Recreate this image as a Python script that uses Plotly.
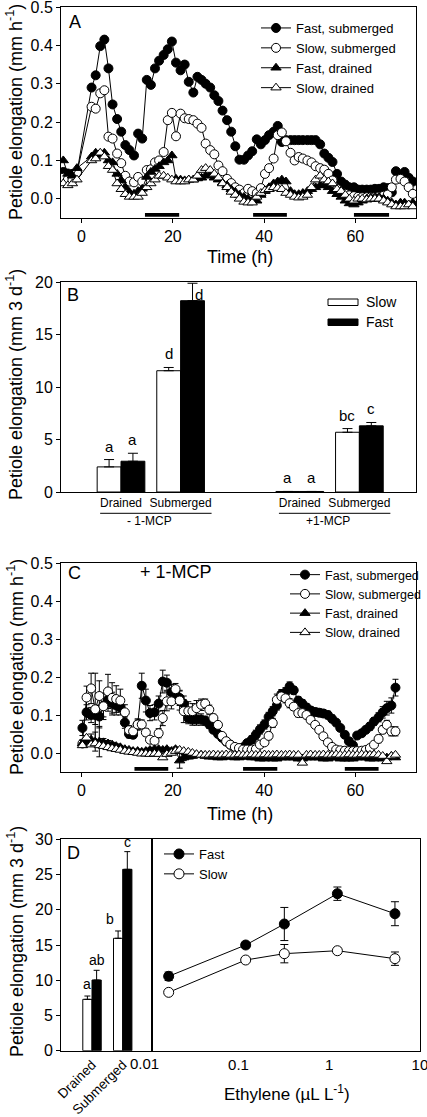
import plotly.graph_objects as go

FONT = "Liberation Sans, Arial, sans-serif"
W, H = 427, 1117
BLK = "black"

# ---------------- Panel A : time course, no 1-MCP ----------------
tA = [-4.0, -3.0, -2.0, -1.0,
      2.2, 3.1, 4.1, 5.0, 5.9, 6.8, 7.8, 8.7, 9.6, 10.5,
      11.5, 12.4, 13.3, 14.3, 15.2, 16.1, 17.0, 18.0, 18.9, 19.8,
      20.7, 21.7, 22.6, 23.5, 24.5, 25.4, 26.3, 27.2, 28.2, 29.1,
      30.0, 30.9, 31.9, 32.8, 33.7, 34.6, 35.6, 36.5, 37.4, 38.4,
      39.3, 40.2, 41.1, 42.1, 43.0, 43.9, 44.8, 45.8, 46.7, 47.6,
      48.5, 49.5, 50.4, 51.3, 52.3, 53.2, 54.1, 55.0, 56.0, 56.9,
      57.8, 58.7, 59.7, 60.6, 61.5, 62.5, 63.4, 64.3, 65.2, 66.2,
      67.1, 68.0, 68.9, 69.9, 70.8, 71.7, 72.6]
A_fast_sub = [0.070, 0.066, 0.065, 0.068,
              0.290, 0.322, 0.398, 0.415, 0.340, 0.246, 0.208, 0.175, 0.140, 0.127,
              0.113, 0.170, 0.157, 0.310, 0.297, 0.340, 0.360, 0.375, 0.390, 0.410,
              0.355, 0.335, 0.350, 0.305, 0.277, 0.318, 0.310, 0.300, 0.290, 0.270,
              0.255, 0.230, 0.205, 0.175, 0.137, 0.102, 0.102, 0.113, 0.124, 0.155,
              0.142, 0.153, 0.166, 0.175, 0.190, 0.148, 0.153, 0.153, 0.153, 0.153,
              0.153, 0.153, 0.153, 0.153, 0.142, 0.118, 0.107, 0.096, 0.065, 0.045,
              0.037, 0.030, 0.030, 0.024, 0.024, 0.024, 0.024, 0.026, 0.026, 0.030,
              0.028, 0.017, 0.072, 0.057, 0.070, 0.055, 0.045]
A_slow_sub = [0.055, 0.050, 0.048, 0.068,
              0.240, 0.235, 0.275, 0.283, 0.162, 0.157, 0.118, 0.093, 0.060, 0.045,
              0.043, 0.057, 0.045, 0.075, 0.077, 0.095, 0.100, 0.122, 0.205, 0.224,
              0.163, 0.222, 0.210, 0.208, 0.205, 0.196, 0.185, 0.144, 0.127, 0.116,
              0.087, 0.072, 0.052, 0.041, 0.030, 0.024, 0.015, 0.026, 0.020, 0.015,
              0.028, 0.065, 0.080, 0.105, 0.166, 0.173, 0.150, 0.120, 0.100, 0.109,
              0.105, 0.100, 0.095, 0.085, 0.080, 0.076, 0.065, 0.048, 0.026, 0.017,
              0.013, 0.009, 0.007, 0.005, 0.004, 0.004, 0.004, 0.005, 0.006, 0.008,
              0.011, 0.030, 0.050, 0.052, 0.045, 0.030, 0.013]
A_fast_dr = [0.100, 0.065, 0.060, 0.080,
             0.110, 0.120, 0.113, 0.120, 0.100, 0.095, 0.065, 0.048, 0.030, 0.017,
             0.013, 0.020, 0.026, 0.057, 0.070, 0.078, 0.085, 0.095, 0.100, 0.113,
             0.052, 0.050, 0.048, 0.050, 0.050, 0.053, 0.055, 0.060, 0.062, 0.055,
             0.050, 0.042, 0.035, 0.025, 0.018, 0.010, 0.005, 0.000, -0.005, -0.005,
             0.010, 0.020, 0.030, 0.040, 0.045, 0.050, 0.045, 0.020, 0.012, 0.012,
             0.015, 0.020, 0.025, 0.030, 0.035, 0.035, 0.030, 0.020, 0.012, 0.005,
             -0.005, -0.012, -0.015, -0.010, -0.005, 0.000, 0.003, 0.005, 0.005, 0.000,
             -0.005, -0.010, -0.015, -0.010, -0.010, -0.015, -0.010]
A_slow_dr = [0.040, 0.035, 0.040, 0.050,
             0.100, 0.105, 0.120, 0.110, 0.085, 0.075, 0.040, 0.025, 0.012, 0.005,
             0.005, 0.005, 0.015, 0.030, 0.040, 0.050, 0.060, 0.060, 0.055, 0.050,
             0.045, 0.045, 0.045, 0.050, 0.050, 0.060, 0.075, 0.080, 0.075, 0.065,
             0.055, 0.040, 0.030, 0.018, 0.010, 0.000, -0.008, -0.010, -0.010, 0.005,
             0.015, 0.022, 0.025, 0.030, 0.028, 0.025, 0.015, 0.010, 0.005, 0.003,
             0.005, 0.010, 0.030, 0.050, 0.060, 0.050, 0.045, 0.040, 0.025, 0.020,
             0.010, 0.000, -0.005, 0.000, 0.000, -0.002, 0.000, 0.000, 0.000, -0.005,
             -0.010, -0.015, -0.020, -0.020, -0.020, -0.015, -0.020]
A_night_start = [13.9, 37.6, 59.7]
A_night_end = [21.4, 45.0, 67.4]

# ---------------- Panel B : 3-day elongation bars ----------------
B_groups = [1, 2, 4, 5]
B_labels = ["Drained", "Submerged", "Drained", "Submerged"]
B_slow = [2.39, 11.55, 0.05, 5.69]
B_slow_err = [0.70, 0.31, None, 0.35]
B_fast = [2.93, 18.22, 0.05, 6.30]
B_fast_err = [0.76, 1.66, None, 0.32]
B_slow_letters = ["a", "d", "a", "bc"]
B_fast_letters = ["a", "d", "a", "c"]
B_treat = ["- 1-MCP", "+1-MCP"]
B_treat_first_group = [1, 4]

# ---------------- Panel C : time course, + 1-MCP ----------------
tC = [0.2, 1.1, 2.1, 3.0, 3.9, 4.8, 5.8, 6.7, 7.6, 8.5,
      9.5, 10.4, 11.3, 12.3, 13.2, 14.1, 15.0, 16.0, 16.9, 17.8,
      18.7, 19.7, 20.6, 21.5, 22.4, 23.4, 24.3, 25.2, 26.2, 27.1,
      28.0, 28.9, 29.9, 30.8, 31.7, 32.6, 33.6, 34.5, 35.4, 36.3,
      37.3, 38.2, 39.1, 40.1, 41.0, 41.9, 42.8, 43.8, 44.7, 45.6,
      46.5, 47.5, 48.4, 49.3, 50.2, 51.2, 52.1, 53.0, 54.0, 54.9,
      55.8, 56.7, 57.7, 58.6, 59.5, 60.4, 61.4, 62.3, 63.2, 64.1,
      65.1, 66.0, 66.9, 67.9, 68.8]
C_fast_sub = [0.066, 0.107, 0.100, 0.100, 0.096, 0.125, 0.140, 0.130, 0.125, 0.120,
              0.080, 0.050, 0.048, 0.075, 0.177, 0.138, 0.105, 0.107, 0.130, 0.188,
              0.185, 0.160, 0.150, 0.145, 0.130, 0.092, 0.088, 0.088, 0.088, 0.085,
              0.075, 0.061, 0.050, 0.040, 0.030, 0.022, 0.015, 0.012, 0.015, 0.026,
              0.035, 0.048, 0.062, 0.075, 0.095, 0.110, 0.125, 0.155, 0.160, 0.175,
              0.165, 0.138, 0.130, 0.120, 0.112, 0.108, 0.106, 0.104, 0.100, 0.090,
              0.080, 0.066, 0.048, 0.031, 0.020, 0.046, 0.052, 0.061, 0.070, 0.083,
              0.094, 0.107, 0.118, 0.125, 0.172]
C_fast_sub_err = [0.020, 0.020, 0.020, 0.025, 0.030, 0.030, 0.030, 0.030, 0.025, 0.020,
                  0.015, 0.010, 0.010, 0.015, 0.033, 0.030, 0.020, 0.020, 0.020, 0.030,
                  0.020, 0.020, 0.020, 0.020, 0.020, 0.015, 0.015, 0.015, 0.015, 0.012,
                  0.010, 0.008, 0.008, 0.008, 0.008, 0.008, 0.008, 0.008, 0.008, 0.008,
                  0.010, 0.012, 0.012, 0.012, 0.012, 0.012, 0.012, 0.012, 0.012, 0.012,
                  0.010, 0.010, 0.010, 0.010, 0.010, 0.010, 0.010, 0.010, 0.010, 0.010,
                  0.008, 0.008, 0.008, 0.008, 0.008, 0.008, 0.008, 0.008, 0.010, 0.010,
                  0.012, 0.015, 0.018, 0.020, 0.022]
C_slow_sub = [0.025, 0.146, 0.170, 0.115, 0.150, 0.123, 0.162, 0.145, 0.142, 0.138,
              0.107, 0.060, 0.057, 0.075, 0.075, 0.054, 0.035, 0.032, 0.052, 0.092,
              0.136, 0.136, 0.168, 0.138, 0.110, 0.110, 0.110, 0.118, 0.127, 0.130,
              0.114, 0.092, 0.074, 0.045, 0.031, 0.022, 0.016, 0.013, 0.009, 0.009,
              0.009, 0.010, 0.022, 0.028, 0.045, 0.079, 0.140, 0.149, 0.144, 0.131,
              0.122, 0.105, 0.105, 0.100, 0.087, 0.074, 0.061, 0.044, 0.028, 0.016,
              0.009, 0.007, 0.006, 0.005, 0.005, 0.005, 0.006, 0.008, 0.013, 0.022,
              0.037, 0.061, 0.074, 0.057, 0.057]
C_slow_sub_err = [0.010, 0.030, 0.040, 0.095, 0.040, 0.035, 0.045, 0.040, 0.035, 0.030,
                  0.020, 0.012, 0.010, 0.012, 0.012, 0.010, 0.008, 0.008, 0.012, 0.020,
                  0.025, 0.020, 0.015, 0.025, 0.030, 0.025, 0.020, 0.020, 0.015, 0.012,
                  0.012, 0.010, 0.008, 0.008, 0.008, 0.008, 0.008, 0.008, 0.008, 0.008,
                  0.008, 0.008, 0.008, 0.008, 0.010, 0.012, 0.015, 0.012, 0.012, 0.012,
                  0.010, 0.010, 0.010, 0.010, 0.008, 0.008, 0.008, 0.008, 0.008, 0.008,
                  0.008, 0.008, 0.008, 0.008, 0.008, 0.008, 0.008, 0.008, 0.008, 0.008,
                  0.010, 0.010, 0.012, 0.012, 0.012]
C_fast_dr = [0.025, 0.030, 0.035, 0.030, 0.030, 0.028, 0.025, 0.022, 0.018, 0.015,
             0.010, 0.008, 0.005, 0.005, 0.003, 0.005, 0.008, 0.010, 0.010, 0.008,
             0.010, 0.005, 0.010, -0.020, -0.012, -0.010, -0.008, -0.005, -0.005, -0.008,
             -0.010, -0.010, -0.012, -0.012, -0.010, -0.010, -0.012, -0.012, -0.010, -0.010,
             -0.012, -0.012, -0.015, -0.015, -0.012, -0.015, -0.015, -0.012, -0.012, -0.012,
             -0.012, -0.015, -0.015, -0.012, -0.012, -0.012, -0.012, -0.015, -0.015, -0.012,
             -0.012, -0.015, -0.015, -0.015, -0.015, -0.012, -0.012, -0.012, -0.015, -0.015,
             -0.012, -0.015, -0.012, -0.008, -0.012]
C_fast_dr_err = [0.008, 0.010, 0.015, 0.025, 0.040, 0.010, 0.008, 0.006, 0.006, 0.005,
                 0.005, 0.005, 0.005, 0.005, 0.005, 0.005, 0.005, 0.005, 0.005, 0.005,
                 0.005, 0.005, 0.006, 0.020, 0.008, 0.005, 0.005, 0.005, 0.005, 0.005,
                 0.004, 0.004, 0.004, 0.004, 0.004, 0.004, 0.004, 0.004, 0.004, 0.004,
                 0.004, 0.004, 0.004, 0.004, 0.004, 0.004, 0.004, 0.004, 0.004, 0.004,
                 0.004, 0.004, 0.004, 0.004, 0.004, 0.004, 0.004, 0.004, 0.004, 0.004,
                 0.004, 0.004, 0.004, 0.004, 0.004, 0.004, 0.004, 0.004, 0.004, 0.004,
                 0.004, 0.004, 0.004, 0.004, 0.004]
C_slow_dr = [0.020, 0.040, 0.022, 0.025, 0.020, 0.018, 0.015, 0.012, 0.010, 0.008,
             0.005, 0.003, 0.002, 0.000, -0.002, -0.002, -0.003, -0.002, -0.003, -0.012,
             -0.003, 0.000, 0.005, 0.008, 0.005, 0.003, 0.000, -0.003, -0.005, -0.005,
             -0.005, -0.004, -0.005, -0.005, -0.004, -0.005, -0.005, -0.004, -0.005, -0.005,
             -0.004, -0.005, -0.005, -0.004, -0.005, -0.005, -0.004, -0.005, -0.005, -0.004,
             -0.005, -0.005, -0.026, -0.005, -0.004, -0.005, -0.005, -0.004, -0.005, -0.005,
             -0.004, -0.005, -0.005, -0.004, -0.005, -0.005, -0.004, -0.005, -0.005, -0.004,
             -0.005, -0.008, -0.022, -0.008, -0.005]
C_night_start = [11.6, 35.4, 57.7]
C_night_end = [19.0, 42.9, 65.1]

# ---------------- Panel D : ethylene dose response ----------------
D_groups = [1, 2]
D_labels = ["Drained", "Submerged"]
D_bar_slow = [7.29, 15.95]
D_bar_slow_err = [0.47, 1.04]
D_bar_fast = [10.03, 25.74]
D_bar_fast_err = [1.38, 2.51]
D_slow_letters = ["a", "b"]
D_fast_letters = ["ab", "c"]
ethylene = [0.017, 0.12, 0.32, 1.23, 5.3]
D_fast = [10.56, 15.00, 17.98, 22.28, 19.44]
D_fast_err = [0.60, 0.40, 2.35, 0.95, 1.70]
D_slow = [8.28, 12.87, 13.77, 14.19, 13.06]
D_slow_err = [0.30, 0.30, 1.30, 0.40, 0.95]


def px_x(p):
    return p / W


def px_y(p):
    return 1 - p / H


fig = go.Figure()

series_style = [("circle", BLK), ("circle", "white"),
                ("triangle-up", BLK), ("triangle-up", "white")]
names = ["Fast, submerged", "Slow, submerged", "Fast, drained", "Slow, drained"]

# Panel A
for name, vals, (sym, fill) in zip(names, [A_fast_sub, A_slow_sub, A_fast_dr, A_slow_dr], series_style):
    fig.add_trace(go.Scatter(
        x=tA, y=vals, mode="lines+markers", name=name,
        line=dict(color=BLK, width=1),
        marker=dict(symbol=sym, size=9, color=fill, line=dict(color=BLK, width=1)),
        xaxis="x", yaxis="y", legend="legend"))

# Panel B
BW = 0.4
fig.add_trace(go.Bar(
    x=B_groups, y=B_slow, width=BW, offset=-BW, name="Slow",
    marker=dict(color="white", line=dict(color=BLK, width=1)),
    error_y=dict(type="data", symmetric=False, array=B_slow_err,
                 arrayminus=[0, 0, 0, 0], color=BLK, thickness=1, width=5),
    xaxis="x2", yaxis="y2", showlegend=False))
fig.add_trace(go.Bar(
    x=B_groups, y=B_fast, width=BW, offset=0, name="Fast",
    marker=dict(color=BLK, line=dict(color=BLK, width=1)),
    error_y=dict(type="data", symmetric=False, array=B_fast_err,
                 arrayminus=[0, 0, 0, 0], color=BLK, thickness=1, width=5),
    xaxis="x2", yaxis="y2", showlegend=False))

# Panel C
for name, vals, errs, (sym, fill) in zip(
        names, [C_fast_sub, C_slow_sub, C_fast_dr, C_slow_dr],
        [C_fast_sub_err, C_slow_sub_err, C_fast_dr_err, None], series_style):
    fig.add_trace(go.Scatter(
        x=tC, y=vals, mode="lines+markers", name=name,
        line=dict(color=BLK, width=1),
        marker=dict(symbol=sym, size=9, color=fill, line=dict(color=BLK, width=1)),
        error_y=(dict(type="data", array=errs, color=BLK, thickness=1, width=3)
                 if errs is not None else None),
        xaxis="x3", yaxis="y3", legend="legend2"))

# Panel D bars
DW = 0.3
fig.add_trace(go.Bar(
    x=D_groups, y=D_bar_slow, width=DW, offset=-DW,
    marker=dict(color="white", line=dict(color=BLK, width=1)),
    error_y=dict(type="data", symmetric=False, array=D_bar_slow_err,
                 arrayminus=[0, 0], color=BLK, thickness=1, width=3),
    xaxis="x4", yaxis="y4", showlegend=False))
fig.add_trace(go.Bar(
    x=D_groups, y=D_bar_fast, width=DW, offset=0,
    marker=dict(color=BLK, line=dict(color=BLK, width=1)),
    error_y=dict(type="data", symmetric=False, array=D_bar_fast_err,
                 arrayminus=[0, 0], color=BLK, thickness=1, width=3),
    xaxis="x4", yaxis="y4", showlegend=False))

# Panel D dose response
for name, vals, errs, fill in [("Fast", D_fast, D_fast_err, BLK), ("Slow", D_slow, D_slow_err, "white")]:
    fig.add_trace(go.Scatter(
        x=ethylene, y=vals, mode="lines+markers", name=name,
        line=dict(color=BLK, width=1),
        marker=dict(symbol="circle", size=10, color=fill, line=dict(color=BLK, width=1)),
        error_y=dict(type="data", array=errs, color=BLK, thickness=1, width=4),
        xaxis="x5", yaxis="y5", legend="legend3"))

# night bars
for s, e in zip(A_night_start, A_night_end):
    fig.add_shape(type="rect", xref="x", yref="y", x0=s, x1=e, y0=-0.047, y1=-0.037,
                  fillcolor=BLK, line_width=0)
for s, e in zip(C_night_start, C_night_end):
    fig.add_shape(type="rect", xref="x3", yref="y3", x0=s, x1=e, y0=-0.047, y1=-0.037,
                  fillcolor=BLK, line_width=0)

ann = []


def text(x, y, s, size, xref="paper", yref="paper", **kw):
    d = dict(x=x, y=y, xref=xref, yref=yref, text=s, showarrow=False,
             xanchor="center", yanchor="middle",
             font=dict(family=FONT, size=size, color=BLK))
    d.update(kw)
    ann.append(d)


# letters on bars (B)
for g, v, e, lab in zip(B_groups, B_slow, B_slow_err, B_slow_letters):
    text(g - BW / 2, v + (e or 0), lab, 15, "x2", "y2", yanchor="bottom", yshift=3)
for g, v, e, lab in zip(B_groups, B_fast, B_fast_err, B_fast_letters):
    if v + (e or 0) > 19:
        text(g + BW / 2, v + (e or 0), lab, 15, "x2", "y2", yanchor="top", xshift=6, yshift=-1)
    else:
        text(g + BW / 2, v + (e or 0), lab, 15, "x2", "y2", yanchor="bottom", yshift=3)
# letters on bars (D)
for g, v, e, lab in zip(D_groups, D_bar_slow, D_bar_slow_err, D_slow_letters):
    text(g - DW / 2, v + e, lab, 14, "x4", "y4", yanchor="bottom", yshift=2,
         xshift=(-8 if lab == "b" else 0))
for g, v, e, lab in zip(D_groups, D_bar_fast, D_bar_fast_err, D_fast_letters):
    text(g + DW / 2, v + e, lab, 14, "x4", "y4", yanchor="bottom", yshift=0)

# treatment labels under B
for g, lab in zip(B_treat_first_group, B_treat):
    fig.add_shape(type="line", xref="x2", yref="paper", x0=g - 0.35, x1=g + 1.52,
                  y0=px_y(513.3), y1=px_y(513.3), line=dict(color=BLK, width=1))
    text(g + 0.48, px_y(521), lab, 12, "x2", "paper")

# B legend (manual boxes)
fig.add_shape(type="rect", xref="paper", yref="paper", x0=px_x(328), x1=px_x(358),
              y0=px_y(305.5), y1=px_y(299), fillcolor="white", line=dict(color=BLK, width=1))
fig.add_shape(type="rect", xref="paper", yref="paper", x0=px_x(328), x1=px_x(358),
              y0=px_y(325.5), y1=px_y(319), fillcolor=BLK, line=dict(color=BLK, width=1))
text(px_x(364), px_y(302), "Slow", 14, xanchor="left")
text(px_x(364), px_y(322), "Fast", 14, xanchor="left")

# panel letters
text(px_x(75), px_y(22.5), "A", 18)
text(px_x(73), px_y(295), "B", 18)
text(px_x(74), px_y(572.5), "C", 18)
text(px_x(73), px_y(853), "D", 18)
text(px_x(176), px_y(571.5), "+ 1-MCP", 18)

# axis titles
YT_A = "Petiole elongation (mm h<sup>-1</sup>)"
YT_B = "Petiole elongation (mm 3 d<sup>-1</sup>)"
text(px_x(15), px_y(112), YT_A, 18, textangle=-90)
text(px_x(15), px_y(385), YT_B, 18, textangle=-90)
text(px_x(15), px_y(667), YT_A, 18, textangle=-90)
text(px_x(15), px_y(942), YT_B, 18, textangle=-90)
text(px_x(240), px_y(257), "Time (h)", 18)
text(px_x(240), px_y(814), "Time (h)", 18)
text(px_x(287), px_y(1093), "Ethylene (µL L<sup>-1</sup>)", 17)
text(px_x(144), px_y(1063), "0.01", 15)

fig.update_layout(annotations=ann)

axis_common = dict(showline=True, linecolor=BLK, linewidth=1, mirror=True,
                   ticks="outside", ticklen=4, tickwidth=1, tickcolor=BLK,
                   showgrid=False, zeroline=False, automargin=False,
                   ticklabeloverflow="allow",
                   tickfont=dict(family=FONT, size=16, color=BLK))

yA = [px_y(218), px_y(7)]
yB = [px_y(492), px_y(282)]
yC = [px_y(772), px_y(563)]
yD = [px_y(1050.7), px_y(839.3)]
xMain = [px_x(61), px_x(416)]

leg_common = dict(xanchor="left", yanchor="top", bgcolor="rgba(0,0,0,0)",
                  tracegroupgap=0, borderwidth=0,
                  font=dict(family=FONT, size=13, color=BLK))

fig.update_layout(
    template="none",
    width=W, height=H, margin=dict(l=0, r=0, t=0, b=0, pad=0, autoexpand=False),
    paper_bgcolor="white", plot_bgcolor="white",
    font=dict(family=FONT, color=BLK),
    barmode="overlay",
    xaxis=dict(axis_common, domain=xMain, range=[-4.5, 73.3], tickvals=[0, 20, 40, 60], anchor="y"),
    yaxis=dict(axis_common, domain=yA, range=[-0.05, 0.5],
               tickvals=[0, 0.1, 0.2, 0.3, 0.4, 0.5], tickformat=".1f", anchor="x"),
    xaxis2=dict(axis_common, domain=xMain, range=[-0.007, 5.95], tickvals=B_groups,
                ticktext=B_labels, ticks="", tickangle=0,
                tickfont=dict(family=FONT, size=12, color=BLK), anchor="y2"),
    yaxis2=dict(axis_common, domain=yB, range=[0, 20], tickvals=[0, 5, 10, 15, 20], anchor="x2"),
    xaxis3=dict(axis_common, domain=xMain, range=[-4.5, 73.3], tickvals=[0, 20, 40, 60], anchor="y3"),
    yaxis3=dict(axis_common, domain=yC, range=[-0.05, 0.5],
                tickvals=[0, 0.1, 0.2, 0.3, 0.4, 0.5], tickformat=".1f", anchor="x3"),
    xaxis4=dict(axis_common, domain=[px_x(61), px_x(152.3)], range=[-0.01, 2.964],
                tickvals=D_groups, ticktext=D_labels, ticks="", tickangle=-45,
                tickfont=dict(family=FONT, size=13.5, color=BLK), anchor="y4"),
    yaxis4=dict(axis_common, domain=yD, range=[0, 30], tickvals=[0, 5, 10, 15, 20, 25, 30], anchor="x4"),
    xaxis5=dict(axis_common, domain=[px_x(152.3), px_x(420)], type="log", range=[-1.95, 1.0005],
                tickvals=[0.1, 1, 10], ticktext=["0.1", "1", "10"], ticks="", anchor="y5",
                tickfont=dict(family=FONT, size=15, color=BLK)),
    yaxis5=dict(axis_common, domain=yD, range=[0, 30], showticklabels=False, ticks="", anchor="x5"),
    legend=dict(leg_common, x=px_x(256), y=px_y(13)),
    legend2=dict(leg_common, x=px_x(285), y=px_y(560), font=dict(family=FONT, size=12.5, color=BLK)),
    legend3=dict(leg_common, x=px_x(159), y=px_y(839)),
)

fig.write_html("out.html", config={"displayModeBar": False},
               post_script="document.body.style.margin='0';document.body.style.overflow='hidden';")
